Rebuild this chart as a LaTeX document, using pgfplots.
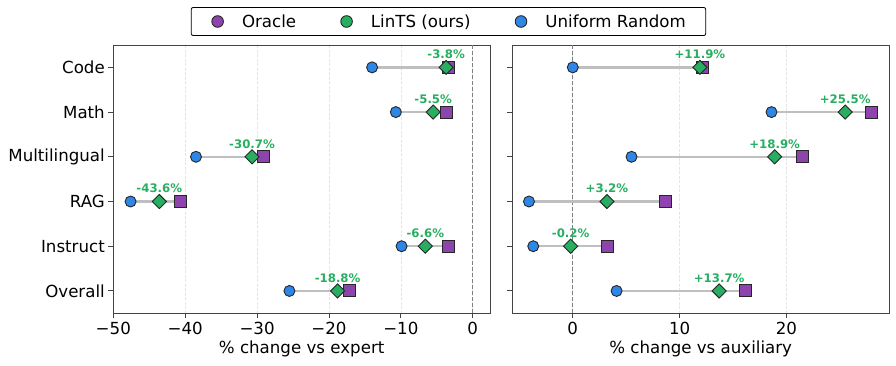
\documentclass[border=0pt]{standalone}
\usepackage{fontspec}
\setmainfont{DejaVu Sans}
\usepackage{pgfplots}
\pgfplotsset{compat=1.18}
\definecolor{cOracle}{HTML}{8E44AD}
\definecolor{cLin}{HTML}{27AE60}
\definecolor{cRand}{HTML}{2E86E6}
\definecolor{cSpine}{HTML}{444444}

\newcommand{\tf}{\fontsize{16.7}{20}\selectfont}
\newcommand{\af}{\bfseries\fontsize{11.8}{14}\selectfont}

\pgfplotsset{
  dumb/.style={
    scale only axis, width=376.7bp, height=268.3bp,
    y dir=reverse, ymin=-0.5, ymax=5.5, ytick={0,...,5},
    axis line style={cSpine, line width=0.9bp},
    tick style={cSpine, line width=0.9bp},
    tick align=outside, xtick pos=bottom, ytick pos=left,
    major tick length=5bp,
    xmajorgrids,
    grid style={black!10, line width=0.7bp, dash pattern=on 3bp off 1.5bp},
    tick label style={font=\tf},
    label style={font=\tf},
    /pgf/number format/assume math mode=true,
    clip=false,
  },
  conn/.style={black!25, line width=2.5bp, forget plot},
  rnd/.style={only marks, mark=*, mark size=5.5bp, mark options={fill=cRand, draw=black!85, line width=0.9bp}, forget plot},
  orc/.style={only marks, mark=square*, mark size=6bp, mark options={fill=cOracle, draw=black!85, line width=0.9bp}, forget plot},
  lin/.style={only marks, mark=square*, mark size=5bp, mark options={fill=cLin, draw=black!85, line width=0.9bp, rotate=45}, forget plot},
  zero/.style={black!50, line width=0.9bp, dash pattern=on 4bp off 2bp, forget plot},
  legcirc/.style={only marks, mark=*, mark size=5.8bp,
    mark options={fill=#1, draw=black!85, line width=0.9bp},
    legend image code/.code={\path (0bp,0bp) (30bp,0bp); \draw[##1] plot coordinates {(8bp,0bp)};}},
}

\begin{document}
\begin{tikzpicture}
\useasboundingbox (-113.3bp,-52.7bp) rectangle (782.7bp,313.3bp);

% Left: change vs expert
\begin{axis}[dumb, at={(0,0)},
  xmin=-50, xmax=2.4,
  xtick={-50,-40,-30,-20,-10,0},
  xticklabels={−50,−40,−30,−20,−10,0},
  yticklabels={Code,Math,Multilingual,RAG,Instruct,Overall},
  xlabel={\% change vs expert},
  legend style={at={(0.8898,1.0876)}, anchor=center, legend columns=3,
    draw=black, line width=0.8bp, rounded corners=2bp, inner xsep=18bp, inner ysep=5bp,
    font=\tf, nodes={inner sep=2bp},
    /tikz/every even column/.append style={column sep=40bp}},
]
\addplot[zero] coordinates {(0,-0.5) (0,5.5)};
\addplot[conn] coordinates {(-14.0,0) (-3.4,0)};
\addplot[conn] coordinates {(-10.7,1) (-3.6,1)};
\addplot[conn] coordinates {(-38.5,2) (-29.1,2)};
\addplot[conn] coordinates {(-47.6,3) (-40.6,3)};
\addplot[conn] coordinates {(-9.9,4) (-3.4,4)};
\addplot[conn] coordinates {(-25.5,5) (-17.1,5)};
\addplot[rnd] coordinates {(-14.0,0) (-10.7,1) (-38.5,2) (-47.6,3) (-9.9,4) (-25.5,5)};
\addplot[orc] coordinates {(-3.4,0) (-3.6,1) (-29.1,2) (-40.6,3) (-3.4,4) (-17.1,5)};
\addplot[lin] coordinates {(-3.7,0) (-5.5,1) (-30.7,2) (-43.6,3) (-6.6,4) (-18.8,5)};
\node[font=\af, text=cLin, yshift=13bp] at (axis cs:-3.7,0) {-3.8\%};
\node[font=\af, text=cLin, yshift=13bp] at (axis cs:-5.5,1) {-5.5\%};
\node[font=\af, text=cLin, yshift=13bp] at (axis cs:-30.7,2) {-30.7\%};
\node[font=\af, text=cLin, yshift=13bp] at (axis cs:-43.6,3) {-43.6\%};
\node[font=\af, text=cLin, yshift=13bp] at (axis cs:-6.6,4) {-6.6\%};
\node[font=\af, text=cLin, yshift=13bp] at (axis cs:-18.8,5) {-18.8\%};
\addlegendimage{legcirc=cOracle}
\addlegendentry{Oracle}
\addlegendimage{legcirc=cLin}
\addlegendentry{LinTS (ours)}
\addlegendimage{legcirc=cRand}
\addlegendentry{Uniform Random}
\end{axis}

% Right: change vs auxiliary
\begin{axis}[dumb, at={(399bp,0)},
  xmin=-5.66, xmax=29.6,
  xtick={0,10,20},
  xticklabels={0,10,20},
  yticklabels={},
  xlabel={\% change vs auxiliary},
]
\addplot[zero] coordinates {(0,-0.5) (0,5.5)};
\addplot[conn] coordinates {(0.0,0) (12.1,0)};
\addplot[conn] coordinates {(18.6,1) (28.0,1)};
\addplot[conn] coordinates {(5.5,2) (21.5,2)};
\addplot[conn] coordinates {(-4.1,3) (8.7,3)};
\addplot[conn] coordinates {(-3.7,4) (3.2,4)};
\addplot[conn] coordinates {(4.1,5) (16.2,5)};
\addplot[rnd] coordinates {(0.0,0) (18.6,1) (5.5,2) (-4.1,3) (-3.7,4) (4.1,5)};
\addplot[orc] coordinates {(12.1,0) (28.0,1) (21.5,2) (8.7,3) (3.2,4) (16.2,5)};
\addplot[lin] coordinates {(11.9,0) (25.5,1) (18.9,2) (3.2,3) (-0.2,4) (13.7,5)};
\node[font=\af, text=cLin, yshift=13bp] at (axis cs:11.9,0) {+11.9\%};
\node[font=\af, text=cLin, yshift=13bp] at (axis cs:25.5,1) {+25.5\%};
\node[font=\af, text=cLin, yshift=13bp] at (axis cs:18.9,2) {+18.9\%};
\node[font=\af, text=cLin, yshift=13bp] at (axis cs:3.2,3) {+3.2\%};
\node[font=\af, text=cLin, yshift=13bp] at (axis cs:-0.2,4) {-0.2\%};
\node[font=\af, text=cLin, yshift=13bp] at (axis cs:13.7,5) {+13.7\%};
\end{axis}
\end{tikzpicture}
\end{document}
